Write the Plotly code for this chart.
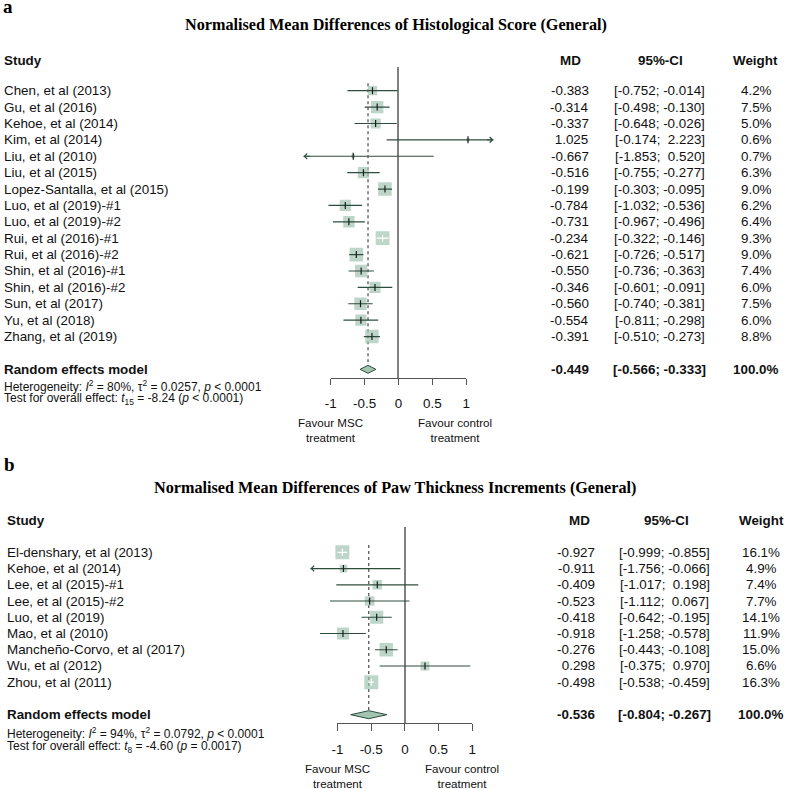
import math
import plotly.graph_objects as go

# ---------------- data ----------------
title_a = "Normalised Mean Differences of Histological Score (General)"
studies_a = ["Chen, et al (2013)", "Gu, et al (2016)", "Kehoe, et al (2014)", "Kim, et al (2014)",
             "Liu, et al (2010)", "Liu, et al (2015)", "Lopez-Santalla, et al (2015)",
             "Luo, et al (2019)-#1", "Luo, et al (2019)-#2", "Rui, et al (2016)-#1",
             "Rui, et al (2016)-#2", "Shin, et al (2016)-#1", "Shin, et al (2016)-#2",
             "Sun, et al (2017)", "Yu, et al (2018)", "Zhang, et al (2019)"]
md_a = [-0.383, -0.314, -0.337, 1.025, -0.667, -0.516, -0.199, -0.784, -0.731, -0.234,
        -0.621, -0.550, -0.346, -0.560, -0.554, -0.391]
lo_a = [-0.752, -0.498, -0.648, -0.174, -1.853, -0.755, -0.303, -1.032, -0.967, -0.322,
        -0.726, -0.736, -0.601, -0.740, -0.811, -0.510]
hi_a = [-0.014, -0.130, -0.026, 2.223, 0.520, -0.277, -0.095, -0.536, -0.496, -0.146,
        -0.517, -0.363, -0.091, -0.381, -0.298, -0.273]
w_a = [4.2, 7.5, 5.0, 0.6, 0.7, 6.3, 9.0, 6.2, 6.4, 9.3, 9.0, 7.4, 6.0, 7.5, 6.0, 8.8]
pooled_a = [-0.449, -0.566, -0.333]
total_w_a = 100.0
het_a = "Heterogeneity: <i>I</i><sup>2</sup> = 80%, τ<sup>2</sup> = 0.0257, <i>p</i> &lt; 0.0001"
test_a = "Test for overall effect: <i>t</i><sub>15</sub> = -8.24 (<i>p</i> &lt; 0.0001)"

title_b = "Normalised Mean Differences of Paw Thickness Increments (General)"
studies_b = ["El-denshary, et al (2013)", "Kehoe, et al (2014)", "Lee, et al (2015)-#1",
             "Lee, et al (2015)-#2", "Luo, et al (2019)", "Mao, et al (2010)",
             "Mancheño-Corvo, et al (2017)", "Wu, et al (2012)", "Zhou, et al (2011)"]
md_b = [-0.927, -0.911, -0.409, -0.523, -0.418, -0.918, -0.276, 0.298, -0.498]
lo_b = [-0.999, -1.756, -1.017, -1.112, -0.642, -1.258, -0.443, -0.375, -0.538]
hi_b = [-0.855, -0.066, 0.198, 0.067, -0.195, -0.578, -0.108, 0.970, -0.459]
w_b = [16.1, 4.9, 7.4, 7.7, 14.1, 11.9, 15.0, 6.6, 16.3]
pooled_b = [-0.536, -0.804, -0.267]
total_w_b = 100.0
het_b = "Heterogeneity: <i>I</i><sup>2</sup> = 94%, τ<sup>2</sup> = 0.0792, <i>p</i> &lt; 0.0001"
test_b = "Test for overall effect: <i>t</i><sub>8</sub> = -4.60 (<i>p</i> = 0.0017)"

tick_vals = [-1, -0.5, 0, 0.5, 1]
tick_text = ["-1", "-0.5", "0", "0.5", "1"]
label_left = "Favour MSC<br>treatment"
label_right = "Favour control<br>treatment"

# ---------------- style ----------------
W, H = 790, 789
SANS = "Liberation Sans, Arial, sans-serif"
SERIF = "Liberation Serif, Times New Roman, serif"
SQ = "#a3c4b3"
LN = "#2f4d3d"
TXT = "#111111"
LIM = 1.4
XR = 1.45

panels = [
    dict(tag="a", title=title_a, studies=studies_a, md=md_a, lo=lo_a, hi=hi_a, w=w_a,
         pooled=pooled_a, total=total_w_a, het=het_a, test=test_a,
         x0=397.5, u=68.7, first=90.7, step=16.39, top=67.3, axis=377.7,
         letter_x=-5, letter_y=6.5, title_y=25, title_x=395, head_y=60.7, study_x=-4,
         md_x=571.0, ci_x=662.0, w_x=760.0, hmd_x=571.7, hci_x=662.5, hw_x=759.0,
         het_y=385.7, test_y=399.3, maxside=13.8, xa="x", ya="y", xt="x3", yt="y3"),
    dict(tag="b", title=title_b, studies=studies_b, md=md_b, lo=lo_b, hi=hi_b, w=w_b,
         pooled=pooled_b, total=total_w_b, het=het_b, test=test_b,
         x0=404.0, u=68.3, first=552.3, step=16.24, top=527.3, axis=723.3,
         letter_x=-4, letter_y=464.5, title_y=488.3, title_x=393.5, head_y=520.0, study_x=-1.5,
         md_x=577.4, ci_x=667.2, w_x=765.0, hmd_x=581.0, hci_x=669.0, hw_x=765.0,
         het_y=732.7, test_y=746.7, maxside=14.0, xa="x2", ya="y2", xt="x4", yt="y4"),
]

fig = go.Figure()
ann = []
layout_axes = {}


def ax_name(ref):
    return ("xaxis" if ref[0] == "x" else "yaxis") + ref[1:]


def pyp(px):
    return 1 - px / H


def fmt(v):
    return f"{v:6.3f}".replace(" ", "\u00a0")


for p in panels:
    n = len(p["studies"])
    rows = list(range(n))
    srow = n + 1
    row_of = lambda px, p=p: (px - p["first"]) / p["step"]
    wmax = max(p["w"])
    sides = [max(3.0, p["maxside"] * math.sqrt(w / wmax)) for w in p["w"]]

    # axes
    layout_axes[ax_name(p["xa"])] = dict(
        domain=[(p["x0"] - XR * p["u"]) / W, (p["x0"] + XR * p["u"]) / W],
        range=[-XR, XR], showgrid=False, showticklabels=False, ticks="",
        zeroline=True, zerolinecolor="#808080", zerolinewidth=1.6, showline=False,
        anchor=p["ya"], fixedrange=True)
    layout_axes[ax_name(p["ya"])] = dict(
        domain=[pyp(p["axis"]), pyp(p["top"])],
        range=[row_of(p["axis"]), row_of(p["top"])],
        visible=False, anchor=p["xa"], fixedrange=True)
    layout_axes[ax_name(p["xt"])] = dict(
        domain=[(p["x0"] - 1 * p["u"]) / W, (p["x0"] + 1 * p["u"]) / W],
        range=[-1, 1], tickvals=tick_vals, ticktext=tick_text, ticks="outside",
        ticklen=6.5, tickwidth=1, tickcolor="#555555", showline=True, linecolor="#555555",
        linewidth=1, showgrid=False, zeroline=False, anchor=p["yt"],
        tickfont=dict(family=SANS, size=13.4, color=TXT), ticklabelstandoff=7,
        fixedrange=True)
    layout_axes[ax_name(p["yt"])] = dict(
        domain=[pyp(p["axis"]), pyp(p["axis"]) + 0.01], range=[0, 1], visible=False,
        anchor=p["xt"], fixedrange=True)
    fig.add_trace(go.Scatter(x=[], y=[], xaxis=p["xt"], yaxis=p["yt"], showlegend=False,
                             hoverinfo="skip"))

    dh = 4.0 / p["step"]
    # dotted pooled line
    fig.add_trace(go.Scatter(x=[p["pooled"][0], p["pooled"][0]], y=[-0.45, srow - dh],
                             mode="lines", line=dict(color="#555555", width=1.3, dash="dot"),
                             xaxis=p["xa"], yaxis=p["ya"], showlegend=False, hoverinfo="skip"))
    # squares
    fig.add_trace(go.Scatter(x=p["md"], y=rows, mode="markers",
                             marker=dict(symbol="square", size=sides, color=SQ,
                                         line=dict(width=0)),
                             xaxis=p["xa"], yaxis=p["ya"], showlegend=False, hoverinfo="skip"))
    # CI lines
    dark_x, dark_y, white_x, white_y = [], [], [], []
    tick_dx, tick_dy, tick_wx, tick_wy = [], [], [], []
    for i in rows:
        lo = max(p["lo"][i], -LIM)
        hi = min(p["hi"][i], LIM)
        inside = (p["hi"][i] - p["lo"][i]) * p["u"] < sides[i]
        if inside:
            white_x += [lo, hi, None]; white_y += [i, i, None]
            tick_wx.append(p["md"][i]); tick_wy.append(i)
        else:
            dark_x += [lo, hi, None]; dark_y += [i, i, None]
            tick_dx.append(p["md"][i]); tick_dy.append(i)
        if p["lo"][i] < -LIM:
            ann.append(dict(x=-LIM, y=i, ax=-LIM + 0.12, ay=i, xref=p["xa"], yref=p["ya"],
                            axref=p["xa"], ayref=p["ya"], showarrow=True, text="",
                            arrowhead=4, arrowsize=1.1, arrowwidth=1, arrowcolor=LN))
        if p["hi"][i] > LIM:
            ann.append(dict(x=LIM, y=i, ax=LIM - 0.12, ay=i, xref=p["xa"], yref=p["ya"],
                            axref=p["xa"], ayref=p["ya"], showarrow=True, text="",
                            arrowhead=4, arrowsize=1.1, arrowwidth=1, arrowcolor=LN))
    fig.add_trace(go.Scatter(x=dark_x, y=dark_y, mode="lines", line=dict(color=LN, width=1.2),
                             xaxis=p["xa"], yaxis=p["ya"], showlegend=False, hoverinfo="skip"))
    fig.add_trace(go.Scatter(x=white_x, y=white_y, mode="lines", line=dict(color="white", width=1.2),
                             xaxis=p["xa"], yaxis=p["ya"], showlegend=False, hoverinfo="skip"))
    fig.add_trace(go.Scatter(x=tick_dx, y=tick_dy, mode="markers",
                             marker=dict(symbol="line-ns", size=5, line=dict(color="#1a1a1a", width=1.2)),
                             xaxis=p["xa"], yaxis=p["ya"], showlegend=False, hoverinfo="skip"))
    fig.add_trace(go.Scatter(x=tick_wx, y=tick_wy, mode="markers",
                             marker=dict(symbol="line-ns", size=5, line=dict(color="white", width=1.2)),
                             xaxis=p["xa"], yaxis=p["ya"], showlegend=False, hoverinfo="skip"))
    # diamond
    m, l, h = p["pooled"]
    fig.add_trace(go.Scatter(x=[l, m, h, m, l], y=[srow, srow - dh, srow, srow + dh, srow],
                             mode="lines", fill="toself", fillcolor=SQ,
                             line=dict(color=LN, width=1),
                             xaxis=p["xa"], yaxis=p["ya"], showlegend=False, hoverinfo="skip"))

    # ---------- text ----------
    def t(text, x, y, yref="paper", xanchor="left", size=13.4, bold=False, family=SANS, color=TXT):
        if bold:
            text = f"<b>{text}</b>"
        ann.append(dict(text=text, x=x / W, y=y, xref="paper", yref=yref, xanchor=xanchor,
                        yanchor="middle", showarrow=False,
                        font=dict(family=family, size=size, color=color)))

    t(p["tag"], p["letter_x"], pyp(p["letter_y"]), size=19, bold=True, family=SERIF, color="#000")
    t(p["title"], p["title_x"], pyp(p["title_y"]), xanchor="center", size=16.2, bold=True,
      family=SERIF, color="#000")
    t("Study", p["study_x"], pyp(p["head_y"]), bold=True)
    t("MD", p["hmd_x"], pyp(p["head_y"]), xanchor="center", bold=True)
    t("95%-CI", p["hci_x"], pyp(p["head_y"]), xanchor="center", bold=True)
    t("Weight", p["hw_x"], pyp(p["head_y"]), xanchor="center", bold=True)
    for i in rows:
        t(p["studies"][i], p["study_x"], i, yref=p["ya"])
        t(fmt(p["md"][i]), p["md_x"], i, yref=p["ya"], xanchor="center")
        t(f"[{fmt(p['lo'][i])}; {fmt(p['hi'][i])}]", p["ci_x"], i, yref=p["ya"], xanchor="center")
        t(f"{p['w'][i]:.1f}%", p["w_x"], i, yref=p["ya"], xanchor="center")
    t("Random effects model", p["study_x"], srow, yref=p["ya"], bold=True)
    t(fmt(m), p["md_x"], srow, yref=p["ya"], xanchor="center", bold=True)
    t(f"[{fmt(l)}; {fmt(h)}]", p["ci_x"], srow, yref=p["ya"], xanchor="center", bold=True)
    t(f"{p['total']:.1f}%", p["w_x"], srow, yref=p["ya"], xanchor="center", bold=True)
    t(p["het"], p["study_x"], pyp(p["het_y"]), size=12.0)
    t(p["test"], p["study_x"], pyp(p["test_y"]), size=12.0)
    # favour labels
    ann.append(dict(text=label_left, x=-1.0, y=pyp(p["axis"] + 52.6), xref=p["xa"], yref="paper",
                    xanchor="center", yanchor="middle", showarrow=False,
                    font=dict(family=SANS, size=11.6, color=TXT)))
    ann.append(dict(text=label_right, x=0.84, y=pyp(p["axis"] + 52.6), xref=p["xa"], yref="paper",
                    xanchor="center", yanchor="middle", showarrow=False,
                    font=dict(family=SANS, size=11.6, color=TXT)))

fig.update_layout(width=W, height=H, margin=dict(l=0, r=0, t=0, b=0),
                  paper_bgcolor="white", plot_bgcolor="rgba(0,0,0,0)",
                  showlegend=False, annotations=ann, **layout_axes)
fig.write_html("out.html", config={"displayModeBar": False},
               post_script="document.body.style.margin='0px';document.body.style.overflow='hidden';")
